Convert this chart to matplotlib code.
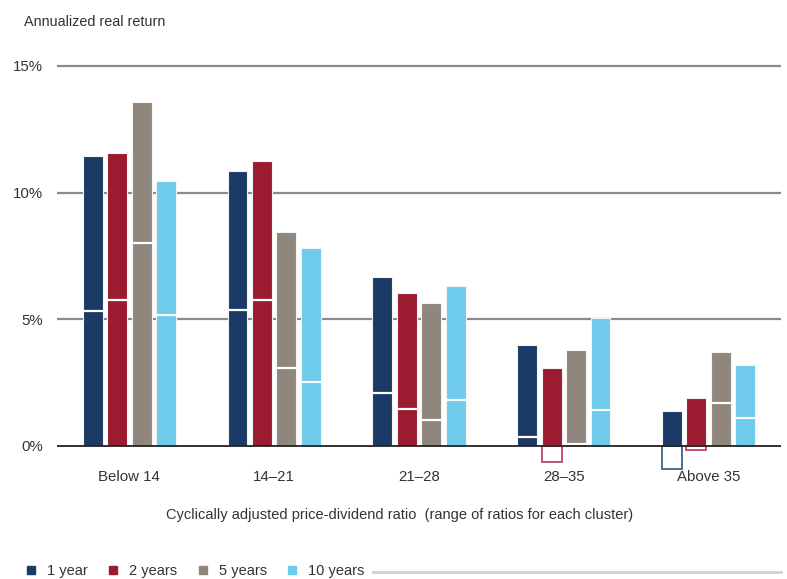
import numpy as np
import matplotlib.pyplot as plt
from matplotlib.lines import Line2D

plt.rcParams['font.family'] = ['Liberation Sans', 'DejaVu Sans']

clusters = ['Below 14', '14\u201321', '21\u201328', '28\u201335', 'Above 35']
series = ['1 year', '2 years', '5 years', '10 years']
colors = ['#1b3a66', '#9b1b30', '#8f877d', '#6ecbeb']
edge_neg = ['#4a6a9a', '#c0566a', '#b0a89e', '#9adcf3']

# upper end of each bar
high = [
    [11.45, 10.86, 6.67, 3.97, 1.39],
    [11.57, 11.25, 6.04, 3.07, 1.91],
    [13.58, 8.45, 5.65, 3.79, 3.70],
    [10.46, 7.82, 6.32, 5.05, 3.18],
]
# lower mark (white line if positive, outlined box if negative)
low = [
    [5.33, 5.37, 2.09, 0.34, -0.90],
    [5.76, 5.76, 1.46, -0.63, -0.17],
    [8.01, 3.08, 1.03, 0.08, 1.68],
    [5.17, 2.53, 1.82, 1.41, 1.10],
]

fig = plt.figure(figsize=(7.87, 5.79), dpi=100)
ax = fig.add_axes([57 / 787, 0.1860, 724 / 787, 0.7088])

x = np.arange(len(clusters))
step = 0.169
w = 0.138

for i, s in enumerate(series):
    xs = x + (i - 1.5) * step
    ax.bar(xs, high[i], width=w, color=colors[i], edgecolor='#f4f4f4',
           linewidth=0.8, zorder=3, label=s)
    for xi, lo in zip(xs, low[i]):
        if lo > 0:
            ax.plot([xi - w / 2, xi + w / 2], [lo, lo], color='white', lw=1.6, zorder=4)
        else:
            ax.bar(xi, lo, width=w, bottom=0, fill=False, edgecolor=edge_neg[i],
                   linewidth=1.4, zorder=3)

for v in [5, 10, 15]:
    ax.axhline(v, color='#8a8a8a', lw=1.6, zorder=1)
ax.axhline(0, color='#222222', lw=1.3, zorder=5)

ax.set_xlim(-0.5, 4.5)
ax.set_ylim(-1.0, 15.2)
ax.set_yticks([0, 5, 10, 15])
ax.set_yticklabels(['0%', '5%', '10%', '15%'])
ax.set_xticks(x)
ax.set_xticklabels(clusters)
ax.tick_params(axis='both', length=0, labelsize=10.8, colors='#333333')
ax.tick_params(axis='y', pad=10)
ax.tick_params(axis='x', pad=-1)
for sp in ax.spines.values():
    sp.set_visible(False)

fig.text(24 / 787, 1 - 22 / 579, 'Annualized real return', fontsize=10.4,
         color='#333333', va='center', ha='left')
fig.text(400 / 787, 1 - 515 / 579,
         'Cyclically adjusted price-dividend ratio  (range of ratios for each cluster)',
         fontsize=10.5, color='#333333', va='center', ha='center')

handles = [Line2D([], [], marker='s', linestyle='none', markersize=6,
                  color=c) for c in colors]
fig.legend(handles, series, loc='center left', bbox_to_anchor=(0.0155, 1 - 571 / 579),
           ncol=4, frameon=False, fontsize=10.5, handlelength=0.8, handletextpad=0.7,
           columnspacing=1.33, labelcolor='#333333')
fig.add_artist(Line2D([373 / 787, 781 / 787], [1 - 572 / 579, 1 - 572 / 579],
                      color='#d0d0d0', lw=2))

fig.savefig('out.png', dpi=100)
